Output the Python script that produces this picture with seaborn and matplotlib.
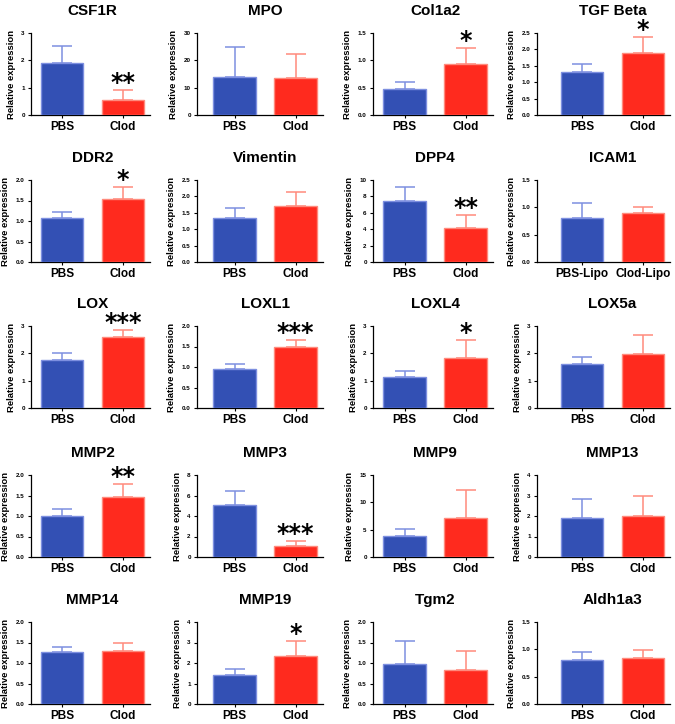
import seaborn as sns
import pandas as pd
import numpy as np
import matplotlib.pyplot as plt
from matplotlib.ticker import FormatStrFormatter

genes = ['CSF1R', 'MPO', 'Col1a2', 'TGF Beta',
         'DDR2', 'Vimentin', 'DPP4', 'ICAM1',
         'LOX', 'LOXL1', 'LOXL4', 'LOX5a',
         'MMP2', 'MMP3', 'MMP9', 'MMP13',
         'MMP14', 'MMP19', 'Tgm2', 'Aldh1a3']
pbs_mean = [1.92, 14.0, 0.47, 1.30, 1.07, 1.35, 7.4, 0.80, 1.77, 0.95,
            1.13, 1.62, 1.01, 5.1, 3.9, 1.88, 1.26, 1.42, 0.97, 0.80]
pbs_sem = [0.60, 11.0, 0.13, 0.24, 0.15, 0.30, 1.8, 0.28, 0.23, 0.13,
           0.23, 0.25, 0.16, 1.35, 1.3, 0.95, 0.12, 0.28, 0.57, 0.16]
clod_mean = [0.55, 13.7, 0.93, 1.88, 1.53, 1.70, 4.15, 0.90, 2.58, 1.48,
             1.82, 1.98, 1.47, 1.1, 7.2, 2.0, 1.30, 2.32, 0.84, 0.85]
clod_sem = [0.35, 8.6, 0.30, 0.50, 0.30, 0.43, 1.55, 0.10, 0.26, 0.17,
            0.68, 0.69, 0.30, 0.45, 5.1, 1.0, 0.20, 0.73, 0.46, 0.13]
stars = ['**', '', '*', '*', '*', '', '**', '', '***', '***',
         '*', '', '**', '***', '', '', '', '*', '', '']
y_max = [3, 30, 1.5, 2.5, 2, 2.5, 10, 1.5, 3, 2, 3, 3, 2, 8, 15, 4, 2, 4, 2, 1.5]
y_step = [1, 10, 0.5, 0.5, 0.5, 0.5, 2, 0.5, 1, 0.5, 1, 1, 0.5, 2, 5, 1, 0.5, 1, 0.5, 0.5]
groups = ['PBS', 'Clod']
groups_lipo = ['PBS-Lipo', 'Clod-Lipo']

bar_colors = ['#3350b4', '#ff2a1e']
edge_colors = ['#7d8fe0', '#ff8a7c']

sns.set_style('white')
plt.rcParams['font.family'] = ['Liberation Sans', 'DejaVu Sans']
plt.rcParams['font.weight'] = 'bold'
plt.rcParams['text.color'] = 'black'
plt.rcParams['axes.labelcolor'] = 'black'
plt.rcParams['xtick.color'] = 'black'
plt.rcParams['ytick.color'] = 'black'

W, H = 675, 724
fig = plt.figure(figsize=(W / 100, H / 100), dpi=100)

# layout in pixels (axis line x, PBS bar centre x) per column, axis bottom per row
col_axis = [31, 197, 373, 537]
col_center = [62, 234.5, 404.5, 582]
unit = 61
row_bottom = [115, 262, 408, 557, 704]
ax_h = 82

for i, gene in enumerate(genes):
    r, c = divmod(i, 4)
    xl = (col_axis[c] - col_center[c]) / unit
    xr = 1.45
    width_px = (xr - xl) * unit
    ax = fig.add_axes([col_axis[c] / W, 1 - row_bottom[r] / H,
                       width_px / W, ax_h / H])
    labels = groups_lipo if gene == 'ICAM1' else groups
    df = pd.DataFrame({'group': labels, 'value': [pbs_mean[i], clod_mean[i]]})
    sns.barplot(data=df, x='group', y='value', hue='group', palette=bar_colors,
                saturation=1, errorbar=None, width=0.69, legend=False, ax=ax, zorder=3)
    for p, ec in zip(ax.patches, edge_colors):
        p.set_edgecolor(ec)
        p.set_linewidth(1.0)
    for j, (m, s) in enumerate([(pbs_mean[i], pbs_sem[i]), (clod_mean[i], clod_sem[i])]):
        ax.errorbar(j, m, yerr=[[0], [s]], color=edge_colors[j], capsize=7.5,
                    elinewidth=1.1, capthick=1.1, zorder=2)
    if stars[i]:
        top = clod_mean[i] + clod_sem[i]
        ax.annotate(stars[i], xy=(1, top), xytext=(0, 0), textcoords='offset points',
                    ha='center', va='baseline', fontsize=17, fontweight='bold',
                    family='DejaVu Sans', annotation_clip=False)
    ax.set_xlim(xl, xr)
    ax.set_ylim(0, y_max[i])
    ax.set_yticks(np.arange(0, y_max[i] + y_step[i] / 2, y_step[i]))
    if y_step[i] < 1:
        ax.yaxis.set_major_formatter(FormatStrFormatter('%.1f'))
    else:
        ax.yaxis.set_major_formatter(FormatStrFormatter('%d'))
    t = ax.set_title(gene, fontsize=11, fontweight='bold', pad=13)
    t.set_x((0.5 - xl) / (xr - xl))
    ax.set_ylabel('Relative expression', fontsize=6.8, fontweight='bold', labelpad=4)
    ax.set_xlabel('')
    sns.despine(ax=ax)
    for sp in ['left', 'bottom']:
        ax.spines[sp].set_linewidth(0.9)
        ax.spines[sp].set_color('black')
    ax.tick_params(axis='y', labelsize=4.5, length=2.5, width=0.8, pad=2, left=True)
    ax.tick_params(axis='x', labelsize=8.5, length=2.5, width=0.8, pad=2, bottom=True)

fig.savefig('out.png', dpi=100)
